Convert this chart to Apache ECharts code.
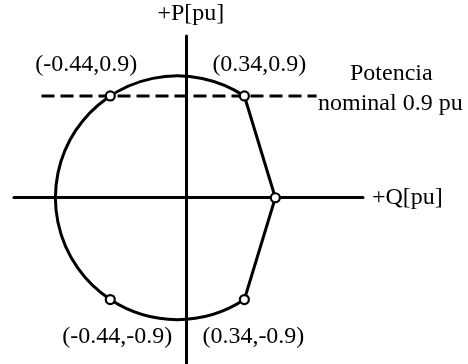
<!DOCTYPE html>
<html>
<head>
<meta charset="utf-8">
<script src="https://cdn.jsdelivr.net/npm/echarts@6/dist/echarts.min.js"></script>
<style>
  html, body { margin: 0; padding: 0; background: #fff; }
  #chart { width: 468px; height: 364px; }
</style>
</head>
<body>
<div id="chart"></div>
<script>
// Capability curve corner points (Q, P) in pu
const pointQ = [-0.44, 0.34, -0.44, 0.34];
const pointP = [0.9, 0.9, -0.9, -0.9];
// Vertex of the right-hand limit on the Q axis
const vertexQ = 0.52;
const vertexP = 0;
// Nominal power line
const nominalP = 0.9;
const nominalLineQ = [-0.84, 0.76];

const FONT = '"Liberation Serif", "Times New Roman", serif';
const labelOffsets = [[-24, -31], [15, -31], [7, 37], [9, 37]];

const markerData = pointQ.map((q, i) => ({
  value: [q, pointP[i]],
  label: {
    show: true,
    position: 'inside',
    offset: labelOffsets[i],
    formatter: '(' + q + ',' + pointP[i] + ')',
    color: '#000',
    fontFamily: FONT,
    fontSize: 24
  }
}));
markerData.push({ value: [vertexQ, vertexP] });

const chart = echarts.init(document.getElementById('chart'), null, { renderer: 'canvas' });

chart.setOption({
  animation: false,
  backgroundColor: '#fff',
  grid: { left: 14, right: 105, top: 36, bottom: 0 },
  xAxis: {
    type: 'value',
    min: -1.0,
    max: 1.03,
    name: '+Q[pu]',
    nameLocation: 'end',
    nameGap: 9,
    nameTextStyle: { color: '#000', fontFamily: FONT, fontSize: 24, verticalAlign: 'middle', padding: [4, 0, 0, 0] },
    axisLine: { show: true, onZero: true, lineStyle: { color: '#000', width: 3 } },
    axisTick: { show: false },
    axisLabel: { show: false },
    splitLine: { show: false }
  },
  yAxis: {
    type: 'value',
    min: -1.47,
    max: 1.43,
    name: '+P[pu]',
    nameLocation: 'end',
    nameGap: 10,
    nameTextStyle: { color: '#000', fontFamily: FONT, fontSize: 24, align: 'center', padding: [0, 0, 0, 10] },
    axisLine: { show: true, onZero: true, lineStyle: { color: '#000', width: 3 } },
    axisTick: { show: false },
    axisLabel: { show: false },
    splitLine: { show: false }
  },
  series: [
    {
      // nominal active power line
      type: 'line',
      data: nominalLineQ.map(q => [q, nominalP]),
      symbol: 'none',
      lineStyle: { color: '#000', width: 3, type: [13, 6] },
      z: 2
    },
    {
      // stator current limit arc through the four corner points
      type: 'custom',
      clip: false,
      data: [[(pointQ[0] + pointQ[1]) / 2, 0]],
      renderItem: function (params, api) {
        const c = api.coord([api.value(0), api.value(1)]);
        const a = api.coord([pointQ[1], pointP[1]]);
        const b = api.coord([pointQ[3], pointP[3]]);
        const r = Math.hypot(a[0] - c[0], a[1] - c[1]);
        return {
          type: 'arc',
          shape: {
            cx: c[0], cy: c[1], r: r,
            startAngle: Math.atan2(a[1] - c[1], a[0] - c[0]),
            endAngle: Math.atan2(b[1] - c[1], b[0] - c[0]),
            clockwise: false
          },
          style: { stroke: '#000', fill: 'none', lineWidth: 3 }
        };
      },
      z: 3
    },
    {
      // right-hand limit
      type: 'line',
      data: [[pointQ[1], pointP[1]], [vertexQ, vertexP], [pointQ[3], pointP[3]]],
      symbol: 'none',
      lineStyle: { color: '#000', width: 3 },
      z: 3
    },
    {
      type: 'scatter',
      data: markerData,
      symbol: 'circle',
      symbolSize: 9,
      itemStyle: { color: '#fff', borderColor: '#000', borderWidth: 2.2, opacity: 1 },
      z: 5
    }
  ],
  graphic: [
    {
      type: 'text',
      left: 350,
      top: 62,
      style: { text: 'Potencia', fill: '#000', font: '24px ' + FONT }
    },
    {
      type: 'text',
      left: 318,
      top: 92,
      style: { text: 'nominal 0.9 pu', fill: '#000', font: '24px ' + FONT }
    }
  ]
});
</script>
</body>
</html>
